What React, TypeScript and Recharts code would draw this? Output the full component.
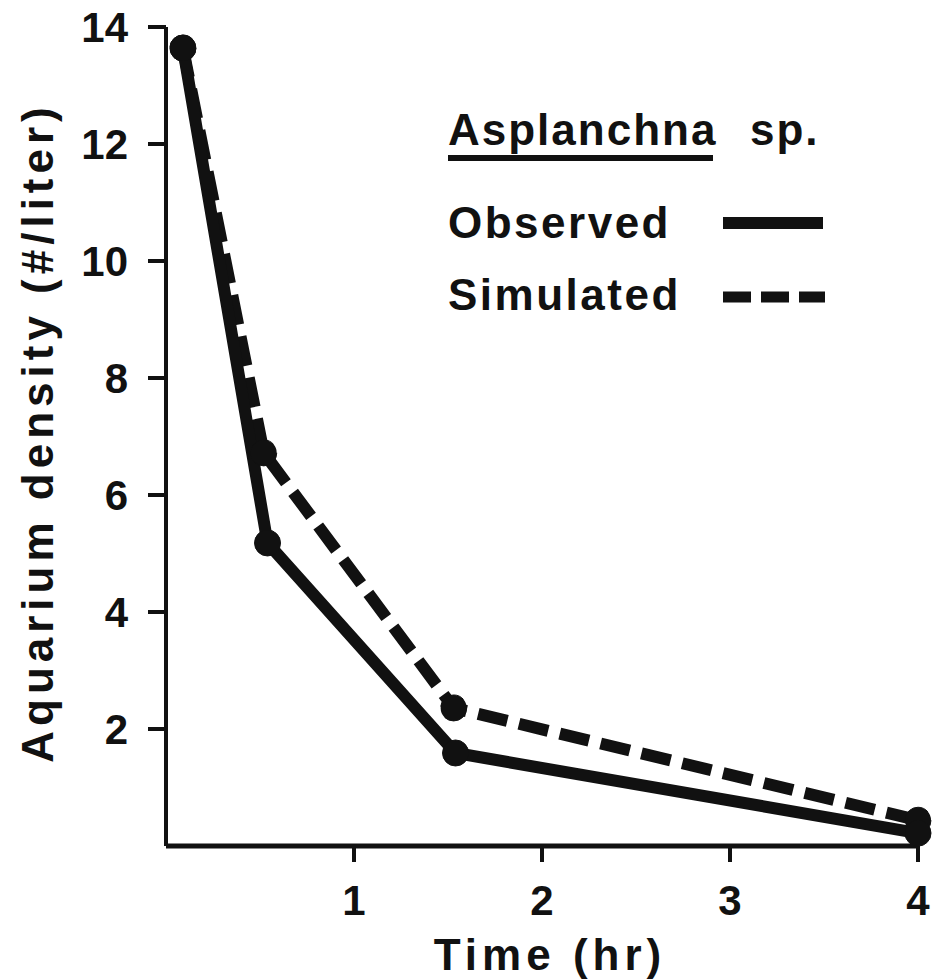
import { LineChart, Line, XAxis, YAxis, Label } from 'recharts'

const observedTimes = [0.09, 0.54, 1.54, 4]
const observed = [13.64, 5.18, 1.59, 0.22]
const simulatedTimes = [0.09, 0.52, 1.53, 4]
const simulated = [13.64, 6.72, 2.36, 0.44]
const xTicks = [1, 2, 3, 4]
const yTicks = [2, 4, 6, 8, 10, 12, 14]

const observedData = observedTimes.map((t, i) => ({ t, v: observed[i] }))
const simulatedData = simulatedTimes.map((t, i) => ({ t, v: simulated[i] }))

const ink = '#111'
const font = '"Liberation Sans", Arial, sans-serif'

const YTitle = ({ viewBox }: any) => {
   const cy = viewBox.y + viewBox.height / 2 - 4
   return (
      <text
         x={53}
         y={cy}
         transform={`rotate(-90, 53, ${cy})`}
         textAnchor="middle"
         fill={ink}
         fontSize={44}
         fontWeight={700}
         fontFamily={font}
         letterSpacing={5}
      >
         Aquarium density (#/liter)
      </text>
   )
}

const XTitle = ({ viewBox }: any) => (
   <text
      x={550}
      y={viewBox.y + 124}
      textAnchor="middle"
      fill={ink}
      fontSize={44}
      fontWeight={700}
      fontFamily={font}
      letterSpacing={5}
   >
      Time (hr)
   </text>
)

function Legend() {
   const txt = { fill: ink, fontSize: 44, fontWeight: 700, fontFamily: font }
   return (
      <svg width={932} height={980} style={{ position: 'absolute', left: 0, top: 0, pointerEvents: 'none' }}>
         <text x={448} y={145} {...txt} letterSpacing={2}>Asplanchna</text>
         <text x={750} y={145} {...txt} letterSpacing={2}>sp.</text>
         <rect x={448} y={155} width={265} height={6} fill={ink} />
         <text x={448} y={238} {...txt} letterSpacing={2.5}>Observed</text>
         <line x1={723} x2={823} y1={223} y2={223} stroke={ink} strokeWidth={12} />
         <text x={448} y={310} {...txt} letterSpacing={2.5}>Simulated</text>
         <line x1={723} x2={825} y1={297} y2={297} stroke={ink} strokeWidth={11} strokeDasharray="28 10" />
      </svg>
   )
}

export default function App() {
   return (
      <div style={{ position: 'absolute', left: 0, top: 0, width: 932, height: 980, background: '#fff' }}>
         <LineChart width={932} height={980} margin={{ top: 27, right: 14, bottom: 0, left: 0 }}>
            <XAxis
               type="number"
               dataKey="t"
               domain={[0, 4]}
               ticks={xTicks}
               height={134}
               tickSize={16}
               tickMargin={23}
               axisLine={{ stroke: ink, strokeWidth: 5 }}
               tickLine={{ stroke: ink, strokeWidth: 4 }}
               tick={{ fill: ink, fontSize: 42, fontWeight: 700, fontFamily: font }}
            >
               <Label content={XTitle} />
            </XAxis>
            <YAxis
               type="number"
               domain={[0, 14]}
               ticks={yTicks}
               width={166}
               tickSize={18}
               tickMargin={20}
               axisLine={{ stroke: ink, strokeWidth: 4 }}
               tickLine={{ stroke: ink, strokeWidth: 4 }}
               tick={{ fill: ink, fontSize: 42, fontWeight: 700, fontFamily: font }}
            >
               <Label content={YTitle} />
            </YAxis>
            <Line
               data={simulatedData}
               dataKey="v"
               type="linear"
               stroke={ink}
               strokeWidth={12}
               strokeDasharray="30 12"
               dot={{ r: 13, fill: ink, stroke: ink, strokeWidth: 1 }}
               isAnimationActive={false}
            />
            <Line
               data={observedData}
               dataKey="v"
               type="linear"
               stroke={ink}
               strokeWidth={12}
               dot={{ r: 13, fill: ink, stroke: ink, strokeWidth: 1 }}
               isAnimationActive={false}
            />
         </LineChart>
         <Legend />
      </div>
   )
}
